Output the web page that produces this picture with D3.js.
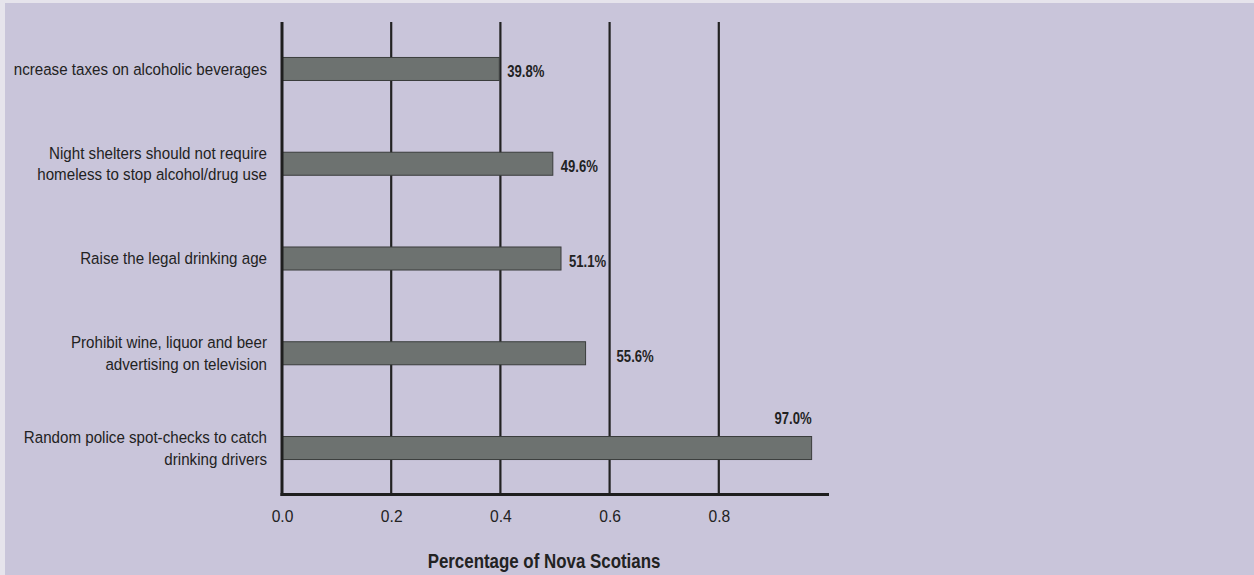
<!DOCTYPE html>
<html>
<head>
<meta charset="utf-8">
<script src="https://cdn.jsdelivr.net/npm/d3@7"></script>
<style>
  html, body { margin: 0; padding: 0; background: #E6E4EC; }
  svg { display: block; }
</style>
</head>
<body>
<svg id="chart" width="1254" height="575"></svg>
<script>
// ---- data ----
const categories = [
  ["ncrease taxes on alcoholic beverages"],
  ["Night shelters should not require", "homeless to stop alcohol/drug use"],
  ["Raise the legal drinking age"],
  ["Prohibit wine, liquor and beer", "advertising on television"],
  ["Random police spot-checks to catch", "drinking drivers"]
];
const values = [0.398, 0.496, 0.511, 0.556, 0.970];
const valueLabels = ["39.8%", "49.6%", "51.1%", "55.6%", "97.0%"];
const xTicks = [0.0, 0.2, 0.4, 0.6, 0.8];
const xTitle = "Percentage of Nova Scotians";

// ---- layout ----
const W = 1254, H = 575;
const svg = d3.select("#chart");
const FONT = "'Liberation Sans', Arial, sans-serif";

svg.append("rect").attr("x", 5).attr("y", 3).attr("width", W - 5).attr("height", H - 3)
  .attr("fill", "#C9C5DA");

const x = d3.scaleLinear().domain([0, 1]).range([282, 828]);
const y = d3.scaleBand().domain(d3.range(categories.length)).range([21.6, 495.4])
  .paddingInner(0.757).paddingOuter(0.757 / 2);

const plotTop = 22, plotBottom = 494.5;

// gridlines
svg.append("g").selectAll("line").data(xTicks.filter(t => t > 0)).join("line")
  .attr("x1", d => x(d)).attr("x2", d => x(d))
  .attr("y1", plotTop).attr("y2", plotBottom)
  .attr("stroke", "#222").attr("stroke-width", 2.2);

// bars
svg.append("g").selectAll("rect").data(values).join("rect")
  .attr("x", x(0)).attr("y", (d, i) => y(i))
  .attr("width", d => x(d) - x(0)).attr("height", y.bandwidth())
  .attr("fill", "#6D7270").attr("stroke", "#3a3d3c").attr("stroke-width", 1);

// axes lines
svg.append("line").attr("x1", x(0)).attr("x2", x(0)).attr("y1", plotTop).attr("y2", plotBottom + 1.5)
  .attr("stroke", "#1e1e1e").attr("stroke-width", 3);
svg.append("line").attr("x1", x(0) - 1.5).attr("x2", x(1) + 1).attr("y1", plotBottom).attr("y2", plotBottom)
  .attr("stroke", "#1e1e1e").attr("stroke-width", 3);

// tick labels via d3 axis
const axisG = svg.append("g").attr("transform", `translate(0,${plotBottom})`)
  .call(d3.axisBottom(x).tickValues(xTicks).tickFormat(d3.format(".1f")).tickSize(0).tickPadding(0));
axisG.select(".domain").remove();
axisG.selectAll(".tick text")
  .attr("y", 0).attr("dy", null)
  .attr("transform", "translate(0,27.5) scale(0.92,1)")
  .attr("font-family", FONT).attr("font-size", 17).attr("fill", "#222");

// category labels
const catG = svg.append("g");
categories.forEach((lines, i) => {
  const cy = y(i) + y.bandwidth() / 2;
  const n = lines.length;
  lines.forEach((ln, j) => {
    const by = cy + 5.8 + (j - (n - 1) / 2) * 21.6;
    catG.append("text")
      .attr("transform", `translate(267,${by}) scale(0.918,1)`)
      .attr("text-anchor", "end")
      .attr("font-family", FONT).attr("font-size", 16.5).attr("fill", "#222")
      .text(ln);
  });
});

// value labels (shifted past a gridline if they would overlap it)
const valG = svg.append("g");
values.forEach((v, i) => {
  const cy = y(i) + y.bandwidth() / 2;
  const last = i === values.length - 1;
  let tx = last ? x(v) : x(v) + 8;
  if (!last) {
    const labelW = 38;
    xTicks.forEach(t => {
      const gx = x(t);
      if (gx > x(v) && gx < tx + labelW && gx > tx - 3) tx = gx + 7;
    });
  }
  const ty = last ? y(i) - 12.3 : cy + 8.3;
  valG.append("text")
    .attr("transform", `translate(${tx},${ty}) scale(0.77,1)`)
    .attr("text-anchor", last ? "end" : "start")
    .attr("font-family", FONT).attr("font-weight", "bold").attr("font-size", 17)
    .attr("fill", "#222")
    .text(valueLabels[i]);
});

// axis title
svg.append("text")
  .attr("transform", `translate(544,567.5) scale(0.845,1)`)
  .attr("text-anchor", "middle")
  .attr("font-family", FONT).attr("font-weight", "bold").attr("font-size", 20)
  .attr("fill", "#222")
  .text(xTitle);
</script>
</body>
</html>
